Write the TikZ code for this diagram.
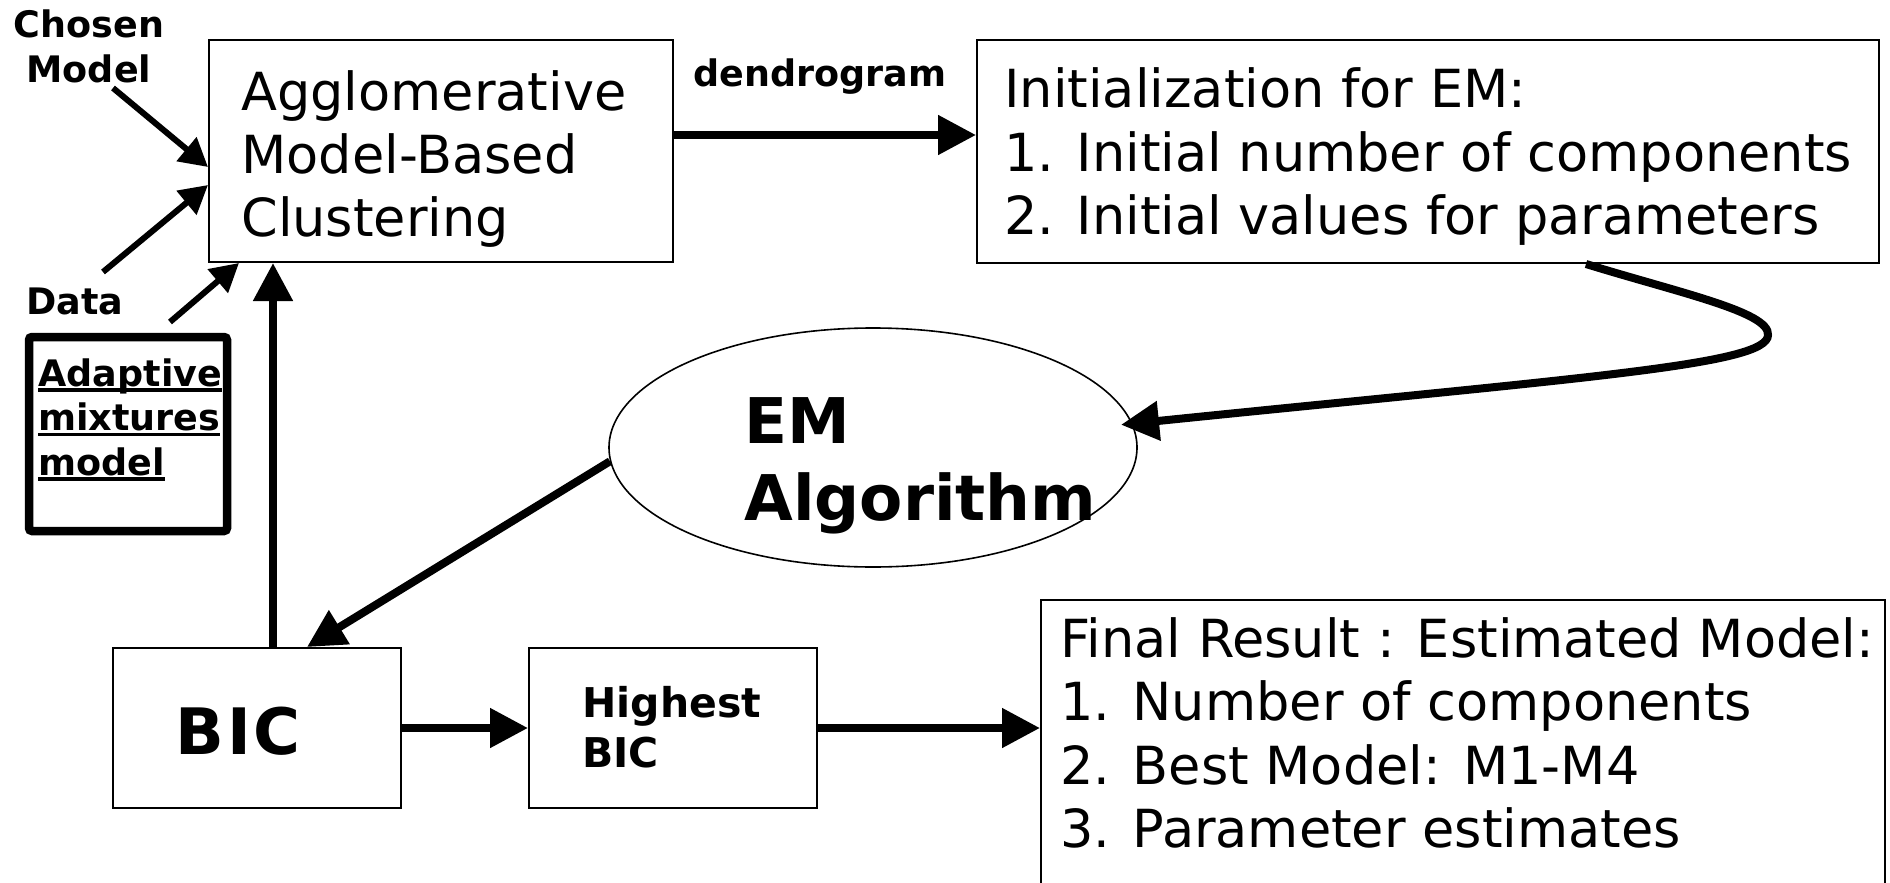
\documentclass[tikz,border=0pt]{standalone}
\usepackage{fontspec}
\setmainfont{DejaVu Sans}
\usetikzlibrary{arrows.meta,shapes.geometric}
\newsavebox\ulbox
\newcommand\ulword[1]{\sbox\ulbox{#1}\rlap{\rule[-2.85pt]{\wd\ulbox}{1.7pt}}\usebox\ulbox}
\begin{document}
\begin{tikzpicture}[x=0.5pt,y=-0.5pt,
  box/.style={draw,line width=1pt,inner sep=0pt,rectangle},
  bigtxt/.style={font=\fontsize{26.25}{31.5}\selectfont,align=left,inner sep=0pt,anchor=base west},
  lbl/.style={font=\fontsize{18.25}{22.5}\selectfont\bfseries,inner sep=0pt},
  mainarrow/.style={line width=4pt,-{Triangle[length=19pt,width=19pt]}},
  inarrow/.style={line width=3pt,-{Triangle[length=14pt,width=15pt]}},
]
\useasboundingbox (0,0) rectangle (1890,883);
\clip (0,0) rectangle (1890,883);
\fill[white] (0,0) rectangle (1890,883);

% boxes
\node[box,minimum width=232pt,minimum height=111pt] (agg) at (441,151) {};
\node[box,minimum width=451pt,minimum height=111.5pt] (init) at (1428,151.5) {};
\node[box,minimum width=422pt,minimum height=170pt] (final) at (1463,770) {};
\node[box,minimum width=144pt,minimum height=80pt] (bic) at (256.5,728) {};
\node[box,minimum width=144pt,minimum height=80pt] (high) at (673,728) {};
\node[draw,line width=4.25pt,rounded corners=1.5pt,inner sep=0pt,minimum width=99pt,minimum height=97pt] (adapt) at (128,434) {};
\node[draw,ellipse,line width=0.8pt,inner sep=0pt,minimum width=264pt,minimum height=119.5pt] (em) at (873,447.5) {};

% texts (multi-line nodes are anchored at the baseline of their last line)
\node[bigtxt] (aggtxt) at (241,236) {Agglomerative\\Model-Based\\Clustering};
\node[bigtxt] (inittxt) at (1004,234) {Initialization for EM:\\1. Initial number of components\\2. Initial values for parameters};
\node[bigtxt,font=\fontsize{26.25}{31.75}\selectfont] (finaltxt) at (1060,847.5) {Final Result : Estimated Model:\\1. Number of components\\2. Best Model: M1-M4\\3. Parameter estimates};
\node[lbl,anchor=base west] (dendro) at (693,87) {dendrogram};
\node[lbl,align=center,anchor=base] (chosen) at (89,83) {Chosen\\Model};
\node[lbl,anchor=base west] (data) at (26,314) {Data};
\node[lbl,align=left,anchor=base west,font=\fontsize{18.25}{22.25}\selectfont\bfseries] (adapttxt) at (38,475) {\ulword{Adaptive}\\\ulword{mixtures}\\\ulword{model}};
\node[lbl,align=left,anchor=base west,font=\fontsize{31.5}{38.5}\selectfont\bfseries] (emtxt) at (744,520) {EM\\Algorithm};
\node[lbl,anchor=base west,font=\fontsize{32}{38}\selectfont\bfseries] (bictxt) at (175,754) {B\kern1.5pt I\kern1.5pt C};
\node[lbl,align=left,anchor=base west,font=\fontsize{20.5}{25}\selectfont\bfseries] (hightxt) at (582,767) {Highest\\BIC};

% free ends of input arrows
\coordinate (cmstart) at (113,88);
\coordinate (datastart) at (103,272);
\coordinate (adstart) at (170,322);
\coordinate (cR) at (1768,335);

% connectors
\draw[inarrow] (cmstart) -- ([yshift=-8pt]agg.west);
\draw[inarrow] (datastart) -- ([yshift=-17pt]agg.west);
\draw[inarrow] (adstart) -- ([xshift=15.5pt]agg.south west);
\draw[mainarrow] ([yshift=8pt]agg.east) -- ([yshift=8pt]agg.east -| init.west);
\draw[mainarrow] ([xshift=79pt]init.south) .. controls +(94,29) and +(2,-23) .. (cR)
   .. controls +(0,30) and +(469,-48) .. ([xshift=-6pt]em.5);
\draw[mainarrow] (em.183) -- ([xshift=25.25pt]bic.north);
\draw[mainarrow] ([xshift=8.25pt]bic.north) -- ([xshift=8.25pt]bic.north |- agg.south);
\draw[mainarrow] (bic.east) -- (high.west);
\draw[mainarrow] (high.east) -- (high.east -| final.west);
\end{tikzpicture}
\end{document}
